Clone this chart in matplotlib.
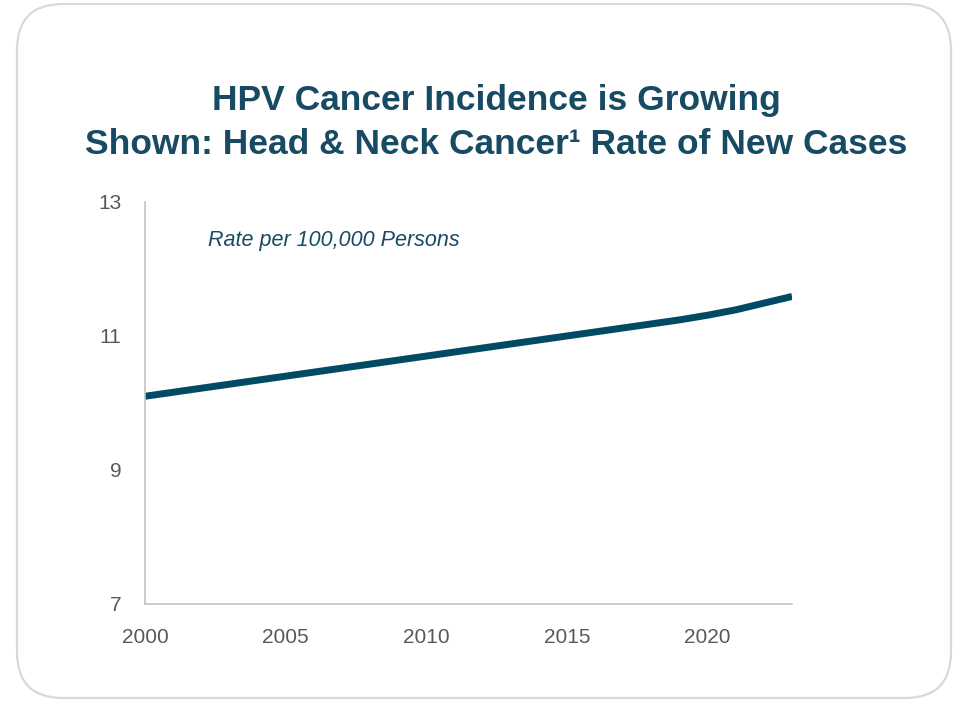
import matplotlib
matplotlib.use('Agg')
import matplotlib.pyplot as plt
from matplotlib.patches import FancyBboxPatch

# data: rate per 100,000 persons
years = list(range(2000, 2024))
rate = [10.10, 10.16, 10.22, 10.28, 10.34, 10.40, 10.46, 10.52, 10.58, 10.64,
        10.70, 10.76, 10.82, 10.88, 10.94, 11.00, 11.06, 11.12, 11.18, 11.24,
        11.31, 11.39, 11.49, 11.59]
xticks = [2000, 2005, 2010, 2015, 2020]
yticks = [7, 9, 11, 13]

teal = '#174A63'
line_col = '#004A63'
grey_txt = '#595959'

plt.rcParams['font.family'] = ['Liberation Sans', 'DejaVu Sans']

fig = plt.figure(figsize=(9.61, 7.01), dpi=100)

# rounded card outline
card = FancyBboxPatch((0.17, 0.03), 9.34, 6.94,
                      boxstyle='round,pad=0,rounding_size=0.46',
                      transform=fig.dpi_scale_trans, facecolor='none',
                      edgecolor='#D9D9D9', linewidth=1.6, zorder=-1)
fig.patches.append(card)

ax = fig.add_axes([0.1509, 0.1384, 0.6733, 0.5735])
ax.set_facecolor('none')
ax.plot(years, rate, color=line_col, linewidth=5, solid_capstyle='butt')

ax.set_xlim(2000, 2023)
ax.set_ylim(7, 13)
ax.set_xticks(xticks)
ax.set_yticks(yticks)
ax.tick_params(length=0, pad=17, colors=grey_txt)
for lab in ax.get_xticklabels() + ax.get_yticklabels():
    lab.set_family(['Liberation Sans Narrow', 'Liberation Sans'])
    lab.set_fontsize(15)
    lab.set_color(grey_txt)

for s in ['top', 'right']:
    ax.spines[s].set_visible(False)
for s in ['left', 'bottom']:
    ax.spines[s].set_color('#BFBFBF')
    ax.spines[s].set_linewidth(1.1)

ax.text(0.097, 0.905, 'Rate per 100,000 Persons', transform=ax.transAxes,
        ha='left', va='center', style='italic', fontsize=15.5, color=teal)

fig.text(0.516, 1 - 110 / 701, 'HPV Cancer Incidence is Growing',
         ha='center', va='baseline', fontsize=25.5, fontweight='bold', color=teal)
fig.text(0.516, 1 - 154 / 701, 'Shown: Head & Neck Cancer\u00b9 Rate of New Cases',
         ha='center', va='baseline', fontsize=25.5, fontweight='bold', color=teal)

fig.savefig('out.png', dpi=100)
